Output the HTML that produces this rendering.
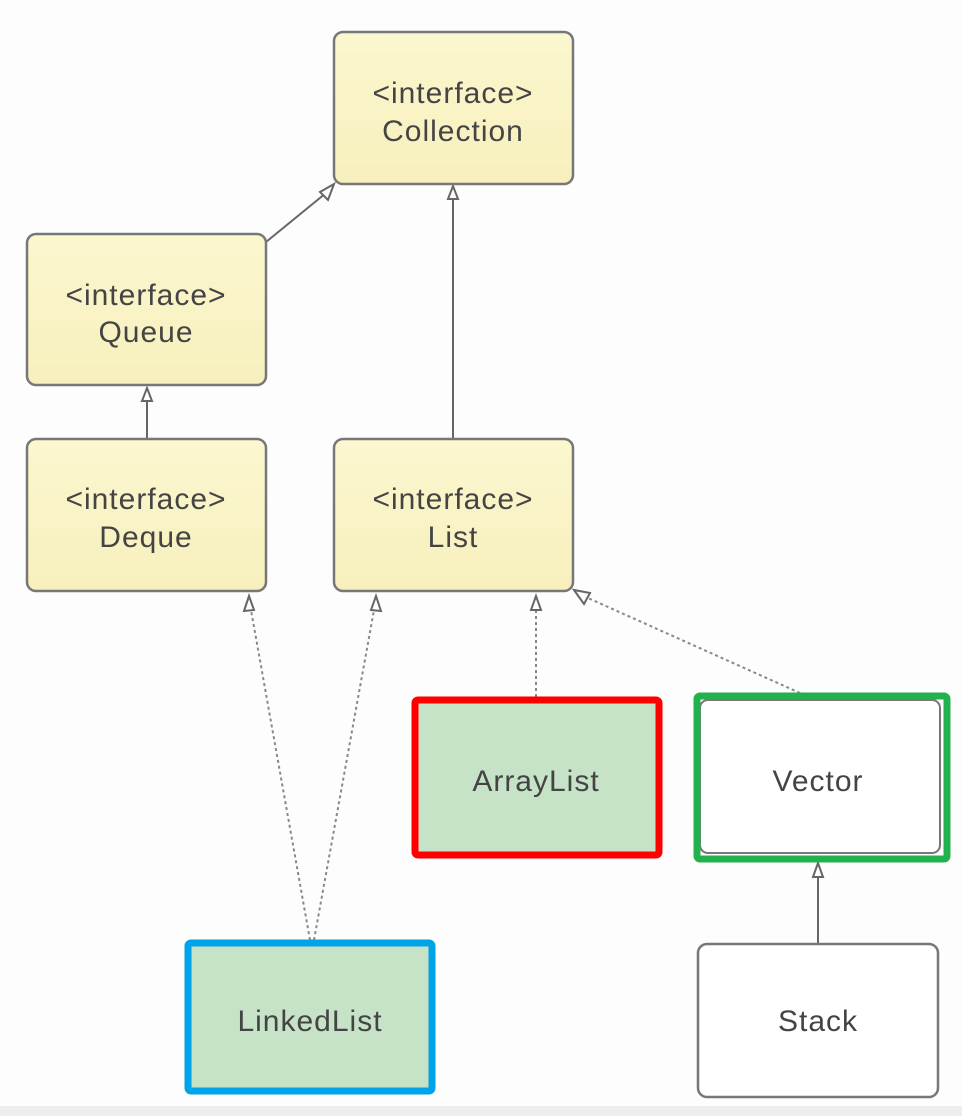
<!DOCTYPE html>
<html><head><meta charset="utf-8"><style>
html,body{margin:0;padding:0;background:#fdfdfd;}
svg{display:block;}
text{font-family:"Liberation Sans","DejaVu Sans",sans-serif;fill:#444;font-size:30px;letter-spacing:1px;text-anchor:middle;}
</style></head><body>
<svg width="962" height="1116" viewBox="0 0 962 1116">
<defs>
<linearGradient id="y" x1="0" y1="0" x2="0" y2="1"><stop offset="0" stop-color="#fbf7cf"/><stop offset="1" stop-color="#f7f0bd"/></linearGradient>
</defs>
<rect x="0" y="1106" width="962" height="10" fill="#eeeeee"/>
<g stroke="#666" stroke-width="2" fill="none">
<line x1="266" y1="242" x2="326" y2="193"/>
<line x1="453" y1="439" x2="453" y2="198"/>
<line x1="147" y1="439" x2="147" y2="400"/>
<line x1="818" y1="944" x2="818" y2="878"/>
</g>
<g stroke="#888" stroke-width="2" fill="none" stroke-dasharray="3,3">
<line x1="310" y1="940" x2="251" y2="610"/>
<line x1="314" y1="940" x2="374" y2="610"/>
<line x1="536" y1="697" x2="536" y2="610"/>
<line x1="800" y1="693" x2="588" y2="598"/>
</g>
<g stroke="#666" stroke-width="2" fill="#fff">
<polygon points="334,184 328,200 320,192"/>
<polygon points="453,186 448,199 458,199"/>
<polygon points="147,388 142,401 152,401"/>
<polygon points="249,596 244,611 254,610"/>
<polygon points="376,596 371,610 381,611"/>
<polygon points="536,596 531,610 541,610"/>
<polygon points="574,590 584,604 590,593"/>
<polygon points="818,863 813,877 823,877"/>
</g>
<g stroke="#777" stroke-width="2.5" fill="url(#y)">
<rect x="334" y="32" width="239" height="152" rx="9"/>
<rect x="27" y="234" width="239" height="151" rx="9"/>
<rect x="27" y="439" width="239" height="152" rx="9"/>
<rect x="334" y="439" width="239" height="152" rx="9"/>
</g>
<text x="453" y="103">&lt;interface&gt;</text><text x="453" y="141">Collection</text>
<text x="146" y="305">&lt;interface&gt;</text><text x="146" y="342">Queue</text>
<text x="146" y="509">&lt;interface&gt;</text><text x="146" y="547">Deque</text>
<text x="453" y="509">&lt;interface&gt;</text><text x="453" y="547">List</text>
<rect x="415" y="700" width="244" height="155" rx="3" fill="#c6e3c7" stroke="#f00" stroke-width="7"/>
<text x="536" y="791">ArrayList</text>
<rect x="700" y="700" width="240" height="153" rx="8" fill="#fff" stroke="#777" stroke-width="2"/>
<rect x="697" y="696" width="250" height="163" rx="3" fill="none" stroke="#22b14c" stroke-width="7"/>
<text x="818" y="791">Vector</text>
<rect x="188" y="943" width="244" height="148" rx="3" fill="#c6e3c7" stroke="#00a2e8" stroke-width="7"/>
<text x="310" y="1031">LinkedList</text>
<rect x="698" y="944" width="240" height="153" rx="9" fill="#fff" stroke="#777" stroke-width="2.5"/>
<text x="818" y="1031">Stack</text>
</svg>
</body></html>
